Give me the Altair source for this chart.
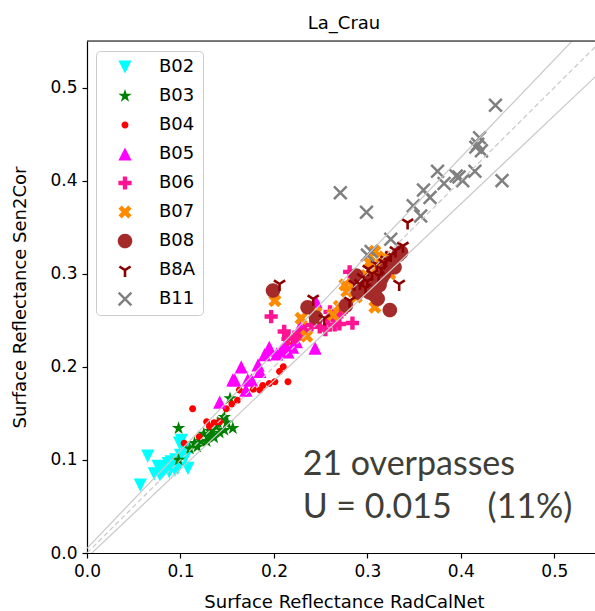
import math
import altair as alt
import pandas as pd

# ---------------- data ----------------
bands = ["B02", "B03", "B04", "B05", "B06", "B07", "B08", "B8A", "B11"]
colors = ["#00ffff", "#008000", "#ff0000", "#ff00ff", "#ff1493",
          "#ff8c00", "#a52a2a", "#8b0000", "#808080"]

b02_x = [0.065, 0.057, 0.076, 0.081, 0.087, 0.092, 0.101, 0.108, 0.097, 0.078, 0.088,
         0.095, 0.100, 0.090, 0.085, 0.072, 0.104, 0.099, 0.083, 0.094, 0.105]
b02_y = [0.104, 0.073, 0.093, 0.087, 0.096, 0.095, 0.121, 0.091, 0.091, 0.084, 0.087,
         0.100, 0.105, 0.098, 0.092, 0.085, 0.112, 0.118, 0.090, 0.089, 0.102]

b03_x = [0.098, 0.098, 0.115, 0.122, 0.129, 0.135, 0.142, 0.147, 0.153, 0.145, 0.156,
         0.147, 0.140, 0.110, 0.118, 0.125, 0.132, 0.138, 0.150, 0.136, 0.128]
b03_y = [0.134, 0.100, 0.118, 0.120, 0.125, 0.127, 0.129, 0.132, 0.166, 0.143, 0.134,
         0.146, 0.140, 0.112, 0.114, 0.128, 0.131, 0.136, 0.140, 0.124, 0.120]

b04_x = [0.104, 0.113, 0.128, 0.131, 0.142, 0.149, 0.161, 0.163, 0.185, 0.188, 0.195,
         0.201, 0.206, 0.215, 0.221, 0.170, 0.178, 0.155, 0.136, 0.120, 0.210]
b04_y = [0.118, 0.155, 0.141, 0.136, 0.141, 0.155, 0.164, 0.175, 0.175, 0.180, 0.182,
         0.184, 0.195, 0.184, 0.225, 0.172, 0.176, 0.160, 0.140, 0.125, 0.200]

b05_x = [0.142, 0.156, 0.158, 0.165, 0.170, 0.172, 0.176, 0.183, 0.190, 0.195, 0.195,
         0.203, 0.208, 0.215, 0.220, 0.224, 0.228, 0.244, 0.245, 0.185, 0.212]
b05_y = [0.162, 0.186, 0.186, 0.200, 0.175, 0.186, 0.186, 0.202, 0.213, 0.218, 0.221,
         0.214, 0.218, 0.216, 0.221, 0.227, 0.243, 0.220, 0.270, 0.195, 0.224]

b06_x = [0.197, 0.211, 0.233, 0.249, 0.258, 0.265, 0.272, 0.284, 0.281, 0.260, 0.270,
         0.240, 0.222, 0.245, 0.255, 0.263, 0.275, 0.290, 0.300, 0.215, 0.228]
b06_y = [0.254, 0.238, 0.239, 0.243, 0.252, 0.245, 0.259, 0.247, 0.302, 0.259, 0.246,
         0.245, 0.232, 0.250, 0.240, 0.255, 0.262, 0.280, 0.290, 0.230, 0.235]

b07_x = [0.201, 0.229, 0.235, 0.263, 0.278, 0.286, 0.308, 0.308, 0.276, 0.295, 0.299,
         0.305, 0.324, 0.315, 0.292, 0.300, 0.288, 0.318, 0.270, 0.302, 0.245]
b07_y = [0.271, 0.252, 0.233, 0.256, 0.281, 0.286, 0.264, 0.324, 0.288, 0.295, 0.298,
         0.305, 0.300, 0.310, 0.292, 0.290, 0.275, 0.318, 0.265, 0.312, 0.258]

b08_x = [0.199, 0.236, 0.245, 0.277, 0.288, 0.324, 0.329, 0.333, 0.308, 0.313, 0.302,
         0.295, 0.311, 0.336, 0.318, 0.305, 0.298, 0.320, 0.315, 0.290, 0.325]
b08_y = [0.282, 0.264, 0.253, 0.266, 0.298, 0.261, 0.307, 0.320, 0.277, 0.288, 0.280,
         0.287, 0.273, 0.323, 0.300, 0.292, 0.290, 0.305, 0.295, 0.280, 0.312]

b8a_x = [0.206, 0.242, 0.254, 0.334, 0.338, 0.343, 0.301, 0.286, 0.281, 0.295, 0.305,
         0.310, 0.315, 0.320, 0.325, 0.298, 0.330, 0.292, 0.312, 0.318, 0.300]
b8a_y = [0.289, 0.273, 0.252, 0.289, 0.330, 0.355, 0.305, 0.289, 0.271, 0.296, 0.300,
         0.310, 0.305, 0.315, 0.320, 0.285, 0.325, 0.290, 0.298, 0.312, 0.292]

b11_x = [0.437, 0.418, 0.422, 0.420, 0.415, 0.444, 0.398, 0.402, 0.375, 0.382, 0.360,
         0.367, 0.271, 0.299, 0.349, 0.357, 0.325, 0.304, 0.395, 0.416, 0.300]
b11_y = [0.481, 0.439, 0.432, 0.446, 0.410, 0.400, 0.404, 0.400, 0.410, 0.397, 0.390,
         0.382, 0.387, 0.366, 0.373, 0.362, 0.337, 0.324, 0.405, 0.436, 0.320]

all_x = [b02_x, b03_x, b04_x, b05_x, b06_x, b07_x, b08_x, b8a_x, b11_x]
all_y = [b02_y, b03_y, b04_y, b05_y, b06_y, b07_y, b08_y, b8a_y, b11_y]

# reference lines: 1:1 and the two uncertainty bounds (end points)
line_x = [0.0, 0.6]
diag_y = [0.0, 0.6]
upper_y = [0.005, 0.635]
lower_y = [-0.005, 0.565]

ticks = [0.0, 0.1, 0.2, 0.3, 0.4, 0.5]

ann_text = ["21 overpasses", "U = 0.015", "(11%)"]
ann_x = [0.2307, 0.2307, 0.4286]
ann_y = [0.0839, 0.0378, 0.0378]

# ---------------- marker shapes (matplotlib-like) ----------------
SYM_SIZE = 225
UNIT = math.sqrt(SYM_SIZE) / 2.0


def poly(pts):
    return "M" + "L".join(f"{x / UNIT:.3f},{y / UNIT:.3f}" for x, y in pts) + "Z"


def circle(r):
    r = r / UNIT
    return f"M{-r:.3f},0A{r:.3f},{r:.3f} 0 1,0 {r:.3f},0A{r:.3f},{r:.3f} 0 1,0 {-r:.3f},0Z"


def star(ro, ri):
    pts = []
    for k in range(10):
        a = math.radians(-90 + 36 * k)
        r = ro if k % 2 == 0 else ri
        pts.append((r * math.cos(a), r * math.sin(a)))
    return poly(pts)


def bar(ex, ey, w, back):
    ln = math.hypot(ex, ey)
    dx, dy = ex / ln, ey / ln
    nx, ny = -dy, dx
    sx, sy = -dx * back, -dy * back
    return poly([(sx + nx * w, sy + ny * w), (ex + nx * w, ey + ny * w),
                 (ex - nx * w, ey - ny * w), (sx - nx * w, sy - ny * w)])


H = 6.6
tri_down = poly([(0, H), (-H, -H), (H, -H)])
tri_up = poly([(0, -H), (-H, H), (H, H)])
star5 = star(7.0, 2.7)
small_circ = circle(3.5)
big_circ = circle(7.3)
a = 2.2
plus_f = poly([(-a, -H), (a, -H), (a, -a), (H, -a), (H, a), (a, a), (a, H), (-a, H),
               (-a, a), (-H, a), (-H, -a), (-a, -a)])
k = 3.3
x_f = poly([(k * p, k * q) for p, q in [(-1, -2), (0, -1), (1, -2), (2, -1), (1, 0), (2, 1),
                                        (1, 2), (0, 1), (-1, 2), (-2, 1), (-1, 0), (-2, -1)]])
L = 7.0
tri_y = " ".join([bar(0, L, 1.3, 1.0), bar(0.8 * L, -0.5 * L, 1.3, 1.0),
                  bar(-0.8 * L, -0.5 * L, 1.3, 1.0)])
x_thin = " ".join([bar(6.4, 6.4, 1.25, 9.0), bar(6.4, -6.4, 1.25, 9.0)])

shapes = [tri_down, star5, small_circ, tri_up, plus_f, x_f, big_circ, tri_y, x_thin]

# ---------------- tables ----------------
rows = []
for band, xs, ys in zip(bands, all_x, all_y):
    for xv, yv in zip(xs, ys):
        rows.append({"band": band, "rc": xv, "s2": yv})
df = pd.DataFrame(rows)

lines_df = pd.DataFrame({
    "x": line_x * 2,
    "y": upper_y + lower_y,
    "which": ["upper"] * 2 + ["lower"] * 2,
})
diag_df = pd.DataFrame({"x": line_x, "y": diag_y})
ann_df = pd.DataFrame({"x": ann_x, "y": ann_y, "t": ann_text})

XMAX = 0.5435
YMAX = 0.55
xscale = alt.Scale(domain=[0, XMAX], nice=False, zero=False)
yscale = alt.Scale(domain=[0, YMAX], nice=False, zero=False)

FONT = "DejaVu Sans"

xaxis = alt.Axis(values=ticks, format=".1f", grid=False, tickSize=5, tickWidth=1.2,
                 domainWidth=1.2, domainColor="black", tickColor="black",
                 labelFont=FONT, labelFontSize=17, labelColor="black", labelPadding=5,
                 labelFlush=False, labelOverlap=False,
                 title="Surface Reflectance RadCalNet", titleFont=FONT, titleFontSize=18,
                 titleFontWeight="normal", titleColor="black", titlePadding=14, titleX=257)
yaxis = alt.Axis(values=ticks, format=".1f", grid=False, tickSize=5, tickWidth=1.2,
                 domainWidth=1.2, domainColor="black", tickColor="black",
                 labelFont=FONT, labelFontSize=17, labelColor="black", labelPadding=5,
                 labelFlush=False, labelOverlap=False,
                 title="Surface Reflectance Sen2Cor", titleFont=FONT, titleFontSize=18,
                 titleFontWeight="normal", titleColor="black", titlePadding=20)

legend = alt.Legend(title=None, orient="none", legendX=9, legendY=10, padding=7,
                    strokeColor="#cccccc", fillColor="white", cornerRadius=4,
                    labelFont=FONT, labelFontSize=18, labelColor="black",
                    rowPadding=11, symbolOffset=13, labelOffset=25,
                    symbolSize=SYM_SIZE, symbolStrokeWidth=0)

points = alt.Chart(df).mark_point(filled=True, opacity=1, size=SYM_SIZE, strokeWidth=0).encode(
    x=alt.X("rc:Q", scale=xscale, axis=xaxis),
    y=alt.Y("s2:Q", scale=yscale, axis=yaxis),
    color=alt.Color("band:N", scale=alt.Scale(domain=bands, range=colors), legend=legend),
    shape=alt.Shape("band:N", scale=alt.Scale(domain=bands, range=shapes), legend=legend),
)

bounds = alt.Chart(lines_df).mark_line(clip=True, color="#c8c8c8", strokeWidth=1.2).encode(
    x=alt.X("x:Q", scale=xscale),
    y=alt.Y("y:Q", scale=yscale),
    detail="which:N",
)
diag = alt.Chart(diag_df).mark_line(clip=True, color="#c8c8c8", strokeWidth=1.2,
                                    strokeDash=[5, 3]).encode(
    x=alt.X("x:Q", scale=xscale),
    y=alt.Y("y:Q", scale=yscale),
)
top_spine = alt.Chart(pd.DataFrame({"y": [YMAX]})).mark_rule(color="black", strokeWidth=1.2).encode(
    y=alt.Y("y:Q", scale=yscale),
)
ann = alt.Chart(ann_df).mark_text(align="left", baseline="alphabetic", font="Lato",
                                  fontSize=34, color="#3f3f3a").encode(
    x=alt.X("x:Q", scale=xscale),
    y=alt.Y("y:Q", scale=yscale),
    text="t:N",
)

chart = alt.layer(points, bounds, diag, top_spine, ann).properties(
    width=508, height=512,
    title=alt.TitleParams("La_Crau", font=FONT, fontSize=18, fontWeight="normal",
                          color="black", offset=7, dx=3),
    padding={"left": 87, "top": 41, "right": 0, "bottom": 58},
    autosize=alt.AutoSizeParams(type="none"),
).configure_view(stroke=None).configure(background="white")

chart.save("out.html", embed_options={"renderer": "svg", "actions": False})
